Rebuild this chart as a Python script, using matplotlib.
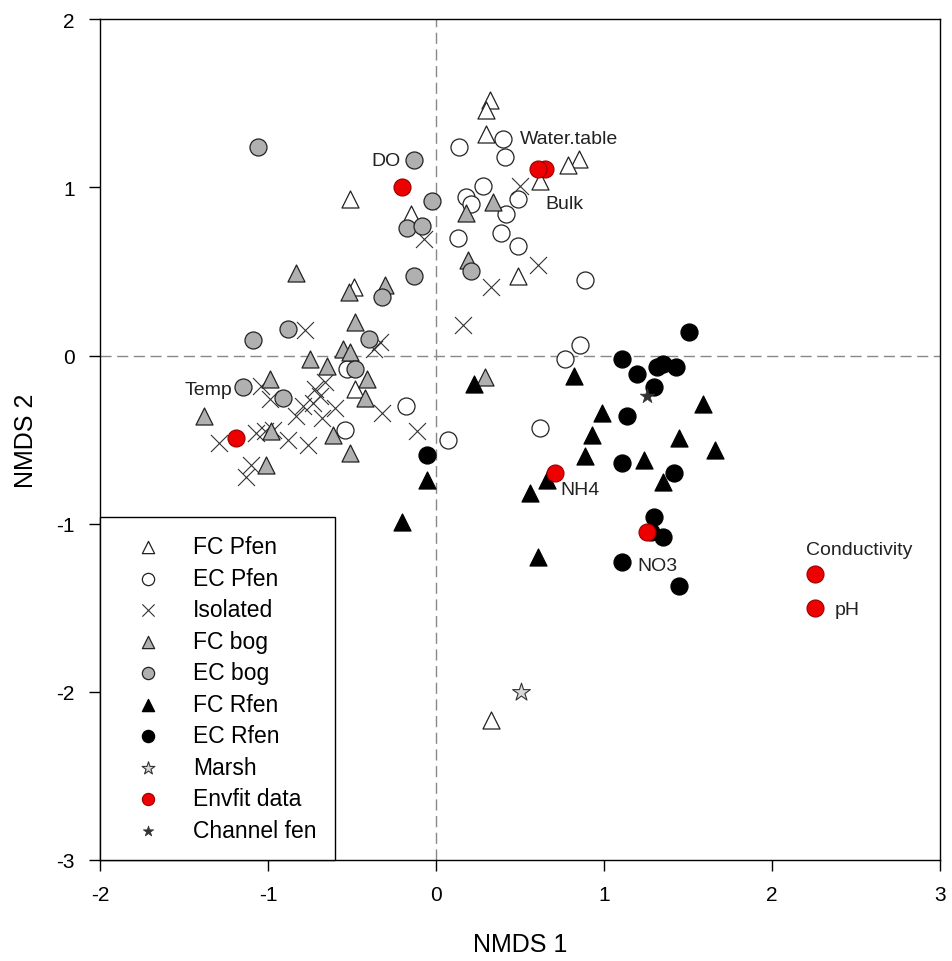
import matplotlib.pyplot as plt

plt.rcParams['font.family'] = ['Liberation Sans', 'DejaVu Sans']
plt.rcParams['axes.unicode_minus'] = False

# --- data ---
fc_pfen_x = [0.32, 0.30, 0.30, 0.85, 0.79, 0.62, -0.51, -0.15, -0.49, 0.49, -0.48, 0.33]
fc_pfen_y = [1.52, 1.46, 1.32, 1.17, 1.13, 1.04, 0.93, 0.84, 0.41, 0.47, -0.20, -2.17]

ec_pfen_x = [0.14, 0.40, 0.41, 0.28, 0.18, 0.21, 0.49, 0.42, 0.39, 0.13, 0.49, 0.89,
             0.86, 0.77, 0.62, -0.18, 0.07, -0.54, -0.53]
ec_pfen_y = [1.24, 1.29, 1.18, 1.01, 0.94, 0.90, 0.93, 0.84, 0.73, 0.70, 0.65, 0.45,
             0.06, -0.02, -0.43, -0.30, -0.50, -0.44, -0.08]

iso_x = [-0.07, 0.50, 0.61, 0.33, 0.16, -0.11, -0.78, -0.33, -0.37, -1.04, -0.66,
         -0.99, -0.69, -0.79, -0.73, -0.60, -0.83, -0.68, -0.32, -1.29, -1.07, -1.02,
         -0.97, -0.88, -0.76, -1.10, -1.13, -0.72]
iso_y = [0.69, 1.01, 0.54, 0.41, 0.18, -0.45, 0.15, 0.08, 0.04, -0.18, -0.16,
         -0.26, -0.24, -0.30, -0.28, -0.31, -0.36, -0.37, -0.34, -0.52, -0.46, -0.45,
         -0.44, -0.50, -0.53, -0.65, -0.72, -0.20]

fc_bog_x = [0.34, 0.18, 0.19, -0.30, -0.83, -0.48, -0.75, -0.65, -0.55, -0.51, -0.41,
            -0.42, -0.99, -1.38, -0.98, -0.61, -0.51, -1.01, 0.29, -0.52]
fc_bog_y = [0.91, 0.85, 0.57, 0.42, 0.49, 0.20, -0.02, -0.06, 0.04, 0.02, -0.14,
            -0.25, -0.14, -0.36, -0.45, -0.47, -0.58, -0.65, -0.13, 0.38]

ec_bog_x = [-1.06, -0.13, -0.02, -0.17, -0.08, -0.13, 0.21, -0.32, -0.88, -1.09,
            -0.40, -0.48, -1.15, -0.91]
ec_bog_y = [1.24, 1.16, 0.92, 0.76, 0.77, 0.47, 0.50, 0.35, 0.16, 0.09,
            0.10, -0.08, -0.19, -0.25]

fc_rfen_x = [0.23, 0.82, 0.99, 0.93, 0.89, 1.24, 1.59, 1.45, 1.66, 1.35, 0.66, 0.56,
             -0.05, -0.20, 0.61]
fc_rfen_y = [-0.17, -0.12, -0.34, -0.47, -0.60, -0.62, -0.29, -0.49, -0.56, -0.75,
             -0.74, -0.82, -0.74, -0.99, -1.20]

ec_rfen_x = [1.51, 1.11, 1.20, 1.32, 1.35, 1.43, 1.30, 1.14, 1.11, 1.42, -0.05, 1.30,
             1.35, 1.11, 1.45, 1.28]
ec_rfen_y = [0.14, -0.02, -0.11, -0.07, -0.05, -0.07, -0.19, -0.36, -0.64, -0.70,
             -0.59, -0.96, -1.08, -1.23, -1.37, -1.05]

marsh_x = [0.51]
marsh_y = [-2.00]

channel_x = [1.26]
channel_y = [-0.24]

env_labels = ['DO', 'Water.table', 'Bulk', 'Temp', 'NH4', 'NO3', 'Conductivity', 'pH']
env_x = [-0.20, 0.65, 0.61, -1.19, 0.71, 1.26, 2.26, 2.26]
env_y = [1.00, 1.11, 1.11, -0.49, -0.70, -1.05, -1.30, -1.50]
# where each envfit label sits (offset in points from its point)
env_offsets = [(-1, 19), (-18, 22), (5, -25), (-37, 35), (4, -12), (-7, -24), (-7, 18), (14, -1)]
env_ha = ['right', 'left', 'left', 'left', 'left', 'left', 'left', 'left']

fig = plt.figure(figsize=(9.52, 9.62), dpi=100)
ax = fig.add_axes([0.105, 0.105, 0.882, 0.874])

ax.axhline(0, color='#888888', ls=(0, (8, 4)), lw=1, zorder=0)
ax.axvline(0, color='#888888', ls=(0, (8, 4)), lw=1, zorder=0)

s_pt = 150
ax.scatter(fc_pfen_x, fc_pfen_y, marker='^', s=s_pt, facecolor='white', edgecolor='#222222',
           lw=0.9, label='FC Pfen', zorder=3)
ax.scatter(ec_pfen_x, ec_pfen_y, marker='o', s=s_pt, facecolor='white', edgecolor='#222222',
           lw=0.9, label='EC Pfen', zorder=3)
ax.scatter(iso_x, iso_y, marker='x', s=s_pt, color='#333333', lw=0.8, label='Isolated', zorder=3)
ax.scatter(fc_bog_x, fc_bog_y, marker='^', s=s_pt, facecolor='#b0b0b0', edgecolor='#222222',
           lw=0.9, label='FC bog', zorder=3)
ax.scatter(ec_bog_x, ec_bog_y, marker='o', s=s_pt, facecolor='#b0b0b0', edgecolor='#222222',
           lw=0.9, label='EC bog', zorder=3)
ax.scatter(fc_rfen_x, fc_rfen_y, marker='^', s=s_pt, facecolor='black', edgecolor='black',
           lw=0.9, label='FC Rfen', zorder=3)
ax.scatter(ec_rfen_x, ec_rfen_y, marker='o', s=s_pt, facecolor='black', edgecolor='black',
           lw=0.9, label='EC Rfen', zorder=3)
ax.scatter(marsh_x, marsh_y, marker='*', s=180, facecolor='#d8d8d8', edgecolor='#333333',
           lw=0.8, label='Marsh', zorder=3)
ax.scatter(env_x, env_y, marker='o', s=s_pt, facecolor='#ee0000', edgecolor='#990000',
           lw=0.8, label='Envfit data', zorder=4)
ax.scatter(channel_x, channel_y, marker='*', s=120, facecolor='#333333', edgecolor='#333333',
           lw=0.5, label='Channel fen', zorder=4)

for lab, x, y, off, ha in zip(env_labels, env_x, env_y, env_offsets, env_ha):
    ax.annotate(lab, (x, y), xytext=off, textcoords='offset points', ha=ha, va='center',
                fontsize=14, color='#222222', zorder=5)

ax.set_xlim(-2, 3)
ax.set_ylim(-3, 2)
ax.set_xticks([-2, -1, 0, 1, 2, 3])
ax.set_yticks([-3, -2, -1, 0, 1, 2])
ax.tick_params(direction='out', length=8, width=1, labelsize=15, pad=10)
for sp in ax.spines.values():
    sp.set_linewidth(1)
ax.set_xlabel('NMDS 1', fontsize=18, labelpad=20)
ax.set_ylabel('NMDS 2', fontsize=18, labelpad=13)

leg = ax.legend(loc='lower left', bbox_to_anchor=(0, 0), borderaxespad=0, fancybox=False,
                edgecolor='black', fontsize=16.5, markerscale=0.72, labelspacing=0.37,
                handlelength=2.6, handletextpad=0.65, borderpad=0.8, framealpha=1,
                scatterpoints=1)
leg.get_frame().set_linewidth(1)
leg.set_zorder(6)

fig.savefig('out.png', dpi=100)
